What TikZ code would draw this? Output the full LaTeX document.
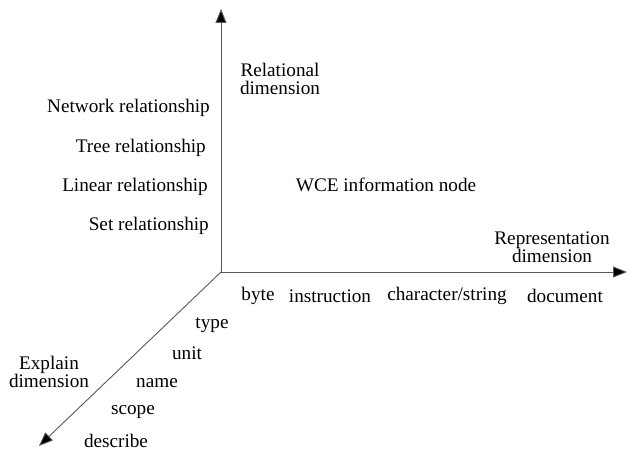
\documentclass[tikz,border=0pt]{standalone}
\usepackage{fontspec}
\setmainfont{Liberation Serif}
\usetikzlibrary{arrows.meta}
\begin{document}
\begin{tikzpicture}[x=1pt,y=-1pt,
  axis/.style={draw=black!65,line width=0.9pt,-{Triangle[length=14pt,width=11pt,fill=black]}},
  lbl/.style={font=\fontsize{19.2}{19.2}\selectfont,inner sep=0pt},
  two/.style={lbl,align=center,font=\fontsize{19.2}{18}\selectfont}]
\useasboundingbox (0,0) rectangle (627,452);
\coordinate (o) at (221,272);
\coordinate (up) at (221,9);
\coordinate (right) at (627,272);
\coordinate (down) at (39,446);
\draw[axis] (o) -- (up);
\draw[axis] (o) -- (right);
\draw[axis] (o) -- (down);
% relational dimension
\node[two] (rel) at (280,79) {Relational\\dimension};
\node[lbl,anchor=east] (net) at (210,108) {Network relationship};
\node[lbl,anchor=east] (tree) at (206,148) {Tree relationship};
\node[lbl,anchor=east] (lin) at (208,187) {Linear relationship};
\node[lbl,anchor=east] (set) at (209,226) {Set relationship};
\node[lbl] (wce) at (386,185) {WCE information node};
% representation dimension
\node[two] (rep) at (552,247) {Representation\\dimension};
\node[lbl] (byte) at (258,296) {byte};
\node[lbl] (ins) at (330,296) {instruction};
\node[lbl] (chr) at (447,296) {character/string};
\node[lbl] (doc) at (565,296) {document};
% explain dimension
\node[two] (exp) at (49,372) {Explain\\dimension};
\node[lbl] (type) at (212,325) {type};
\node[lbl] (unit) at (187,353) {unit};
\node[lbl] (name) at (157,383) {name};
\node[lbl] (scope) at (133,412) {scope};
\node[lbl] (desc) at (116,441) {describe};
\end{tikzpicture}
\end{document}
